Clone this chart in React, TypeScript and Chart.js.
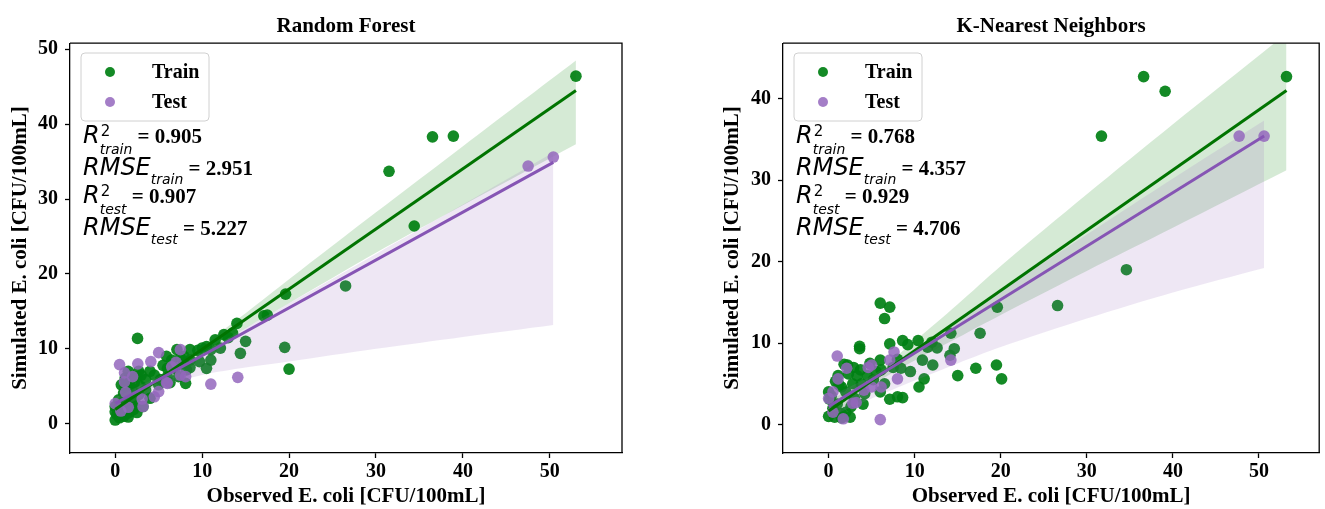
import React, { useEffect, useRef } from 'react';
import { Chart, registerables } from 'chart.js';

Chart.register(...registerables);

const SERIF = '"Liberation Serif", "Times New Roman", serif';
const MATH = '"DejaVu Sans", sans-serif';

const TRAIN_POINT = 'rgba(0, 128, 20, 0.92)';
const TRAIN_LINE = '#007400';
const TRAIN_BAND = 'rgba(0, 128, 0, 0.165)';
const TEST_POINT = 'rgba(148, 103, 189, 0.85)';
const TEST_LINE = '#8655b4';
const TEST_BAND = 'rgba(148, 103, 189, 0.16)';

// ---------- Random Forest ----------
// [observed, simulated]
const rfTrain: [number, number][] = [
  [53.0, 46.4], [38.9, 38.4], [36.5, 38.3], [31.5, 33.7], [34.4, 26.4], [26.5, 18.4],
  [19.6, 17.3], [17.1, 14.4], [17.5, 14.5], [14.0, 13.4], [15.0, 11.0], [14.4, 9.4], [19.5, 10.2], [20.0, 7.3],
  [12.5, 11.9], [11.5, 11.2], [10.5, 10.3], [11.0, 9.9], [11.0, 8.5], [12.1, 10.1], [10.5, 7.4], [13.0, 11.5],
  [13.5, 12.1], [9.5, 9.8], [10.0, 10.1], [9.7, 8.3],
  [8.6, 9.9], [8.6, 8.5], [8.6, 7.5], [7.1, 9.9], [7.9, 9.0], [7.9, 8.1], [8.2, 7.2], [8.1, 5.4], [7.5, 8.8],
  [5.9, 9.0], [6.0, 7.4], [6.0, 6.3], [6.9, 7.4], [7.3, 6.3], [6.5, 8.5], [5.5, 7.8], [5.2, 5.9], [5.0, 5.2],
  [6.3, 5.5], [4.5, 6.5],
  [4.0, 7.0], [3.5, 5.9], [2.5, 6.3], [1.5, 7.0], [1.15, 6.1], [1.15, 5.0], [1.7, 5.0], [2.9, 5.0], [3.5, 4.5],
  [4.0, 3.4], [2.7, 3.9], [1.9, 3.2], [0.96, 4.1], [0.4, 3.2],
  [0.0, 2.3], [0.0, 1.6], [0.0, 0.5], [0.6, 1.4], [1.0, 1.0], [1.4, 1.4], [1.7, 1.6], [2.1, 1.9], [1.9, 2.5],
  [2.3, 2.8], [3.2, 2.3], [2.57, 11.4],
  [0.3, 2.0], [0.8, 2.4], [1.2, 2.0], [0.5, 0.8], [1.5, 0.9], [2.5, 1.5], [0.2, 1.2], [1.0, 3.0], [1.3, 3.6],
  [2.0, 4.4], [0.7, 5.2], [1.8, 6.0], [2.2, 5.5], [3.0, 6.5], [2.7, 7.0],
];
const rfTest: [number, number][] = [
  [50.4, 35.6], [47.5, 34.4], [14.1, 6.2], [11.0, 5.3], [5.0, 9.5], [0.5, 7.9], [2.6, 8.0], [4.1, 8.3],
  [7.5, 9.9], [7.0, 8.2], [8.1, 6.3], [6.0, 5.4], [1.07, 5.6], [1.07, 6.8], [2.0, 6.3], [4.5, 3.6], [5.0, 4.3],
  [3.2, 2.3], [0.0, 2.7], [1.5, 2.2], [0.65, 1.7], [3.1, 3.3], [5.9, 5.5], [7.5, 6.5], [6.5, 7.6], [1.2, 4.2],
];
const rfTrainFitX = [0, 53];
const rfTrainFitY = [1.9, 44.5];
const rfTrainBandX = [0, 5, 10, 15, 20, 30, 40, 53];
const rfTrainBandLow = [1.1, 5.42, 9.34, 12.76, 16.08, 22.82, 29.16, 37.3];
const rfTrainBandHigh = [2.6, 6.32, 10.44, 14.76, 19.28, 28.22, 37.06, 48.5];
const rfTestFitX = [0, 50.4];
const rfTestFitY = [2.7, 34.9];
const rfTestBandX = [0, 5, 10, 15, 20, 30, 40, 50.4];
const rfTestBandLow = [1.5, 4.8, 6.5, 7.5, 8.3, 10.0, 11.6, 13.2];
const rfTestBandHigh = [3.5, 6.3, 9.49, 12.79, 16.08, 22.67, 29.26, 36.2];
const rfScores = ['0.905', '2.951', '0.907', '5.227'];

// ---------- K-Nearest Neighbors ----------
const knnTrain: [number, number][] = [
  [53.2, 42.7], [36.6, 42.7], [39.1, 40.9], [31.7, 35.4], [34.6, 19.0], [26.6, 14.6],
  [6.0, 14.9], [7.1, 14.4], [6.5, 13.0], [19.6, 14.4], [17.6, 11.2], [14.2, 11.2], [14.6, 9.3], [14.1, 8.5],
  [12.6, 9.4], [12.1, 7.3],
  [10.4, 10.3], [10.9, 7.9], [11.1, 5.6], [10.5, 4.6], [8.6, 10.3], [7.1, 9.9], [8.4, 6.9], [8.0, 3.4],
  [8.6, 3.3], [7.1, 3.1],
  [3.6, 9.3], [3.6, 9.6], [6.0, 7.9], [6.0, 4.0], [6.1, 6.7], [15.0, 6.0], [17.1, 6.9], [19.5, 7.3], [20.1, 5.6],
  [1.1, 6.0], [0.0, 4.0], [0.1, 3.1], [0.0, 1.0], [0.7, 0.9], [1.5, 1.3], [2.0, 1.5], [2.2, 7.3], [2.9, 7.0],
  [3.7, 6.7], [1.8, 7.4],
  [1.5, 4.6], [2.0, 4.0], [2.8, 5.0], [1.2, 4.9], [3.8, 5.0], [4.5, 6.0], [5.2, 5.5], [3.0, 3.2], [4.2, 3.8],
  [1.0, 2.5], [0.5, 2.0], [2.6, 2.2],
  [9.5, 6.5], [11.5, 9.5], [12.0, 10.1], [9.2, 9.8], [4.8, 7.5], [5.5, 6.5], [7.5, 7.0], [1.5, 0.8], [2.5, 0.9],
  [0.3, 3.5], [4.0, 2.5], [6.5, 5.0], [8.0, 8.0], [3.3, 6.0], [2.3, 6.2], [0.8, 5.3],
];
const knnTest: [number, number][] = [
  [50.6, 35.4], [47.7, 35.4], [14.2, 7.9], [1.0, 8.4], [2.1, 6.9], [4.6, 7.0], [5.0, 7.3], [7.6, 8.9],
  [7.1, 7.9], [8.0, 5.6], [6.1, 4.6], [5.0, 4.6], [4.1, 4.2], [1.1, 5.6], [0.5, 4.0], [0.0, 3.2], [2.8, 2.6],
  [3.2, 2.7], [0.5, 1.5], [1.7, 0.7], [6.0, 0.6],
];
const knnTrainFitX = [0, 53.2];
const knnTrainFitY = [1.65, 41.0];
const knnTrainBandX = [0, 5, 10, 15, 20, 30, 40, 53.2];
const knnTrainBandLow = [0.55, 4.75, 7.85, 10.65, 13.45, 18.85, 24.15, 31.2];
const knnTrainBandHigh = [2.85, 6.05, 10.25, 14.75, 19.45, 28.25, 36.85, 48.0];
const knnTestFitX = [0, 50.6];
const knnTestFitY = [2.2, 35.4];
const knnTestBandX = [0, 5, 10, 15, 20, 30, 40, 50.6];
const knnTestBandLow = [0.9, 3.2, 5.4, 7.5, 9.5, 13.0, 16.2, 19.2];
const knnTestBandHigh = [3.4, 5.99, 9.37, 12.96, 16.44, 23.31, 30.18, 37.3];
const knnScores = ['0.768', '4.357', '0.929', '4.706'];

const tickValues = [0, 10, 20, 30, 40, 50];
const X_TITLE = 'Observed E. coli [CFU/100mL]';
const Y_TITLE = 'Simulated E. coli [CFU/100mL]';

interface Panel {
  title: string;
  xMin: number; xMax: number; yMin: number; yMax: number;
  yAxisWidth: number; padRight: number; yTitleOffset: number;
  train: [number, number][]; test: [number, number][];
  trainFitX: number[]; trainFitY: number[];
  trainBandX: number[]; trainBandLow: number[]; trainBandHigh: number[];
  testFitX: number[]; testFitY: number[];
  testBandX: number[]; testBandLow: number[]; testBandHigh: number[];
  scores: string[];
}

const toPts = (xs: number[], ys: number[]) => xs.map((x, i) => ({ x, y: ys[i] }));

// frame, legend box and the metric block inside the axes
const panelDecor = {
  id: 'panelDecor',
  afterDraw(chart: any, _args: any, opts: any) {
    const { ctx, chartArea: a } = chart;
    ctx.save();
    ctx.strokeStyle = '#000';
    ctx.lineWidth = 1.3;
    ctx.beginPath();
    ctx.moveTo(a.left, a.top);
    ctx.lineTo(a.right, a.top);
    ctx.lineTo(a.right, a.bottom);
    ctx.stroke();

    // legend
    const lx = a.left + 11, ly = 53, lw = 128, lh = 68, r = 4;
    ctx.beginPath();
    ctx.moveTo(lx + r, ly);
    ctx.arcTo(lx + lw, ly, lx + lw, ly + lh, r);
    ctx.arcTo(lx + lw, ly + lh, lx, ly + lh, r);
    ctx.arcTo(lx, ly + lh, lx, ly, r);
    ctx.arcTo(lx, ly, lx + lw, ly, r);
    ctx.closePath();
    ctx.fillStyle = 'rgba(255,255,255,0.85)';
    ctx.fill();
    ctx.strokeStyle = '#d0d0d0';
    ctx.lineWidth = 1;
    ctx.stroke();
    const entries = [
      { label: 'Train', color: TRAIN_POINT, y: 72 },
      { label: 'Test', color: TEST_POINT, y: 102 },
    ];
    ctx.font = `bold 20px ${SERIF}`;
    ctx.textBaseline = 'middle';
    ctx.textAlign = 'left';
    for (const e of entries) {
      ctx.beginPath();
      ctx.arc(a.left + 40, e.y, 5, 0, Math.PI * 2);
      ctx.fillStyle = e.color;
      ctx.fill();
      ctx.fillStyle = '#000';
      ctx.fillText(e.label, a.left + 82, e.y + 1);
    }

    // metrics
    const scores: string[] = opts.scores;
    const rows = [
      { base: 'R', sup: true, sub: 'train', y: 143 },
      { base: 'RMSE', sup: false, sub: 'train', y: 175 },
      { base: 'R', sup: true, sub: 'test', y: 203 },
      { base: 'RMSE', sup: false, sub: 'test', y: 235 },
    ];
    ctx.textBaseline = 'alphabetic';
    ctx.fillStyle = '#000';
    rows.forEach((row, i) => {
      let x = a.left + 13;
      ctx.font = `italic 24px ${MATH}`;
      ctx.fillText(row.base, x, row.y);
      x += ctx.measureText(row.base).width;
      let w = 0;
      if (row.sup) {
        ctx.font = `15px ${MATH}`;
        ctx.fillText('2', x + 1, row.y - 7);
        w = ctx.measureText('2').width + 1;
      }
      ctx.font = `italic 14px ${MATH}`;
      ctx.fillText(row.sub, x, row.y + (row.sup ? 11 : 9));
      w = Math.max(w, ctx.measureText(row.sub).width);
      x += w;
      ctx.font = `bold 21px ${SERIF}`;
      ctx.fillText(' = ' + scores[i], x, row.y);
    });
    ctx.restore();
  },
};

function buildConfig(p: Panel): any {
  const pointSet = (label: string, data: [number, number][], color: string, order: number) => ({
    type: 'scatter',
    label,
    data: data.map(([x, y]) => ({ x, y })),
    backgroundColor: color,
    borderWidth: 0,
    pointRadius: 5.8,
    order,
  });
  const lineSet = (xs: number[], ys: number[], color: string, order: number) => ({
    type: 'line',
    data: toPts(xs, ys),
    borderColor: color,
    borderWidth: 3,
    pointRadius: 0,
    fill: false,
    order,
  });
  const bandEdge = (xs: number[], ys: number[], order: number) => ({
    type: 'line',
    data: toPts(xs, ys),
    borderWidth: 0,
    borderColor: 'rgba(0,0,0,0)',
    pointRadius: 0,
    tension: 0.3,
    fill: false,
    order,
  });
  const bandFill = (xs: number[], ys: number[], target: number, color: string, order: number) => ({
    type: 'line',
    data: toPts(xs, ys),
    borderWidth: 0,
    borderColor: 'rgba(0,0,0,0)',
    pointRadius: 0,
    tension: 0.3,
    backgroundColor: color,
    fill: { target, above: color, below: color },
    order,
  });

  const axisFont = { family: SERIF, size: 21, weight: 'bold' as const, lineHeight: 1.2 };
  const tickFont = { family: SERIF, size: 20, weight: 'bold' as const, lineHeight: 1.2 };
  const grid = { drawOnChartArea: false, drawTicks: true, tickLength: 5, tickWidth: 1.3, tickColor: '#000' };
  const border = { display: true, color: '#000', width: 1.3 };

  return {
    type: 'scatter',
    data: {
      datasets: [
        pointSet('Train', p.train, TRAIN_POINT, 6),                       // 0
        bandEdge(p.trainBandX, p.trainBandHigh, 5),                      // 1
        bandFill(p.trainBandX, p.trainBandLow, 1, TRAIN_BAND, 5),        // 2
        pointSet('Test', p.test, TEST_POINT, 4),                          // 3
        bandEdge(p.testBandX, p.testBandHigh, 3),                        // 4
        bandFill(p.testBandX, p.testBandLow, 4, TEST_BAND, 3),           // 5
        lineSet(p.trainFitX, p.trainFitY, TRAIN_LINE, 1),                // 6
        lineSet(p.testFitX, p.testFitY, TEST_LINE, 0),                   // 7
      ],
    },
    options: {
      animation: false,
      responsive: false,
      events: [],
      layout: { padding: { left: 0, right: p.padRight, top: 0, bottom: 0 } },
      plugins: {
        legend: { display: false },
        tooltip: { enabled: false },
        title: {
          display: true,
          text: p.title,
          fullSize: false,
          color: '#000',
          font: axisFont,
          padding: { top: 14, bottom: 4 },
        },
        panelDecor: { scores: p.scores },
      },
      scales: {
        x: {
          type: 'linear',
          min: p.xMin,
          max: p.xMax,
          grid,
          border,
          afterFit: (s: any) => { s.height = 56; },
          afterBuildTicks: (s: any) => { s.ticks = tickValues.map((v) => ({ value: v })); },
          ticks: { font: tickFont, color: '#000', padding: 2, maxRotation: 0 },
          title: { display: true, text: X_TITLE, color: '#000', font: axisFont, padding: { top: 0, bottom: 0 } },
        },
        y: {
          type: 'linear',
          min: p.yMin,
          max: p.yMax,
          grid,
          border,
          afterFit: (s: any) => { s.width = p.yAxisWidth; },
          afterBuildTicks: (s: any) => {
            s.ticks = tickValues.filter((v) => v <= p.yMax).map((v) => ({ value: v }));
          },
          ticks: { font: tickFont, color: '#000', padding: 7 },
          title: { display: true, text: Y_TITLE, color: '#000', font: axisFont, padding: { top: p.yTitleOffset, bottom: 0 } },
        },
      },
    },
    plugins: [panelDecor],
  };
}

const rfPanel: Panel = {
  title: 'Random Forest',
  xMin: -5.2, xMax: 58.3, yMin: -3.9, yMax: 50.8,
  yAxisWidth: 70, padRight: 40, yTitleOffset: 8,
  train: rfTrain, test: rfTest,
  trainFitX: rfTrainFitX, trainFitY: rfTrainFitY,
  trainBandX: rfTrainBandX, trainBandLow: rfTrainBandLow, trainBandHigh: rfTrainBandHigh,
  testFitX: rfTestFitX, testFitY: rfTestFitY,
  testBandX: rfTestBandX, testBandLow: rfTestBandLow, testBandHigh: rfTestBandHigh,
  scores: rfScores,
};

const knnPanel: Panel = {
  title: 'K-Nearest Neighbors',
  xMin: -5.3, xMax: 57.0, yMin: -3.5, yMax: 46.8,
  yAxisWidth: 121, padRight: 3, yTitleOffset: 58,
  train: knnTrain, test: knnTest,
  trainFitX: knnTrainFitX, trainFitY: knnTrainFitY,
  trainBandX: knnTrainBandX, trainBandLow: knnTrainBandLow, trainBandHigh: knnTrainBandHigh,
  testFitX: knnTestFitX, testFitY: knnTestFitY,
  testBandX: knnTestBandX, testBandLow: knnTestBandLow, testBandHigh: knnTestBandHigh,
  scores: knnScores,
};

export default function App() {
  const leftRef = useRef<HTMLCanvasElement>(null);
  const rightRef = useRef<HTMLCanvasElement>(null);

  useEffect(() => {
    const charts = [
      new Chart(leftRef.current as HTMLCanvasElement, buildConfig(rfPanel)),
      new Chart(rightRef.current as HTMLCanvasElement, buildConfig(knnPanel)),
    ];
    return () => charts.forEach((c) => c.destroy());
  }, []);

  return (
    <div style={{ position: 'fixed', left: 0, top: 0, width: 1325, height: 509, background: '#fff', overflow: 'hidden' }}>
      <canvas ref={leftRef} width={662} height={509}
        style={{ position: 'absolute', left: 0, top: 0, width: 662, height: 509 }} />
      <canvas ref={rightRef} width={663} height={509}
        style={{ position: 'absolute', left: 662, top: 0, width: 663, height: 509 }} />
    </div>
  );
}
